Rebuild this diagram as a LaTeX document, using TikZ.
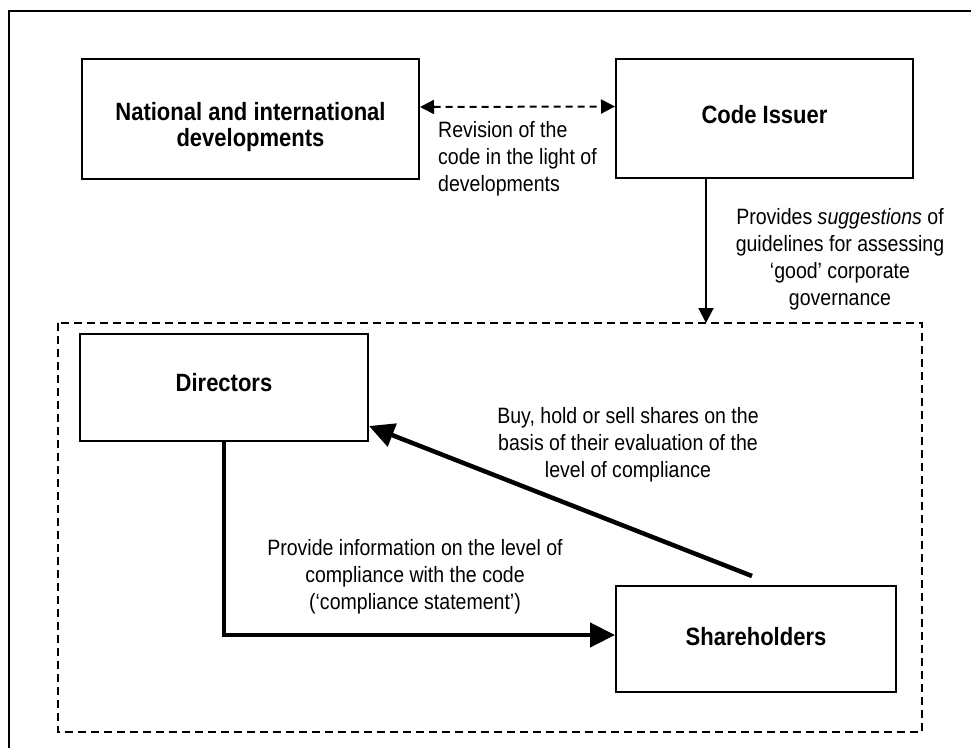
\documentclass[tikz,border=0pt]{standalone}
\usepackage{fontspec}
\setmainfont{Liberation Sans}[FakeStretch=0.88]
\usetikzlibrary{arrows.meta}
\newcommand{\shiftup}[2]{\raisebox{#1}[\height][\depth]{#2}}
\tikzset{
  box/.style={draw, line width=2pt, minimum width=#1, inner sep=0pt, align=center,
    font=\fontsize{25}{25}\selectfont\bfseries},
  lbl/.style={inner sep=0pt, font=\fontsize{22.2}{27}\selectfont},
  thinarrow/.style={line width=2pt, -{Triangle[length=15pt,width=15pt]}},
  dblarrow/.style={line width=2pt, dash pattern=on 7pt off 5pt,
    {Triangle[length=14pt,width=14pt]}-{Triangle[length=14pt,width=14pt]}},
  thickarrow/.style={line width=4.5pt, -{Triangle[length=25pt,width=24pt]}},
  group/.style={draw, line width=2pt, dash pattern=on 8pt off 5pt}
}
\begin{document}
\begin{tikzpicture}[x=1pt,y=-1pt]
\useasboundingbox (0,0) rectangle (971,747);
% outer frame (extends past the right and bottom edges)
\draw[line width=2pt] (9,760) -- (9,11) -- (990,11);
% dashed group
\draw[group] (58,323) rectangle (922,732);
\coordinate (grptop) at (706,323);
% boxes
\node[box=337pt, minimum height=120pt] (nat) at (250.5,119)
  {\shiftup{-9pt}{\begin{tabular}{@{}c@{}}National and international\\developments\end{tabular}}};
\node[box=297pt, minimum height=119pt] (ci) at (764.5,118.5)
  {\shiftup{4pt}{Code Issuer}};
\node[box=288pt, minimum height=107pt] (dir) at (224,387.5)
  {\shiftup{5pt}{Directors}};
\node[box=280pt, minimum height=106pt] (sh) at (756,639)
  {\shiftup{2pt}{Shareholders}};
% connectors
\draw[dblarrow] ([yshift=12pt]nat.east) -- ([yshift=12pt]ci.west);
\draw[thinarrow] ([xshift=-58.5pt]ci.south) -- (grptop);
\draw[thickarrow] (dir.south) |- ([yshift=4pt]sh.west);
\draw[thickarrow] ([xshift=-4pt,yshift=9pt]sh.north) -- ([yshift=-38.5pt]dir.east);
% labels
\node[lbl, anchor=north west, align=left] (rev) at (438,121)
  {Revision of the\\code in the light of\\developments};
\node[lbl, anchor=north, align=center] (prov) at (840,208)
  {Provides \textit{suggestions} of\\guidelines for assessing\\‘good’ corporate\\governance};
\node[lbl, anchor=north, align=center] (buy) at (628,407)
  {Buy, hold or sell shares on the\\basis of their evaluation of the\\level of compliance};
\node[lbl, anchor=north, align=center] (info) at (415,539)
  {Provide information on the level of\\compliance with the code\\(‘compliance statement’)};
\end{tikzpicture}
\end{document}
